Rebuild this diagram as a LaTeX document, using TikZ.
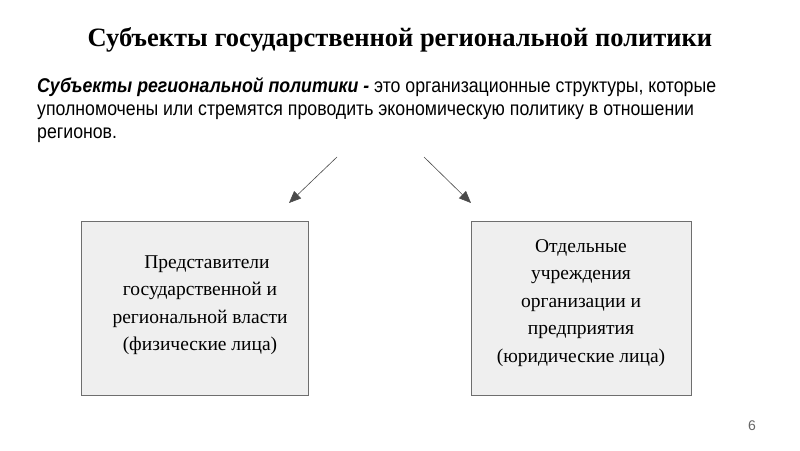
\documentclass[tikz,border=0pt]{standalone}
\usepackage{fontspec}
\setmainfont{Liberation Serif}
\newfontfamily\bodyfont[FakeStretch=0.89]{Liberation Sans}
\newfontfamily\numfont{Liberation Sans}
\usetikzlibrary{arrows.meta}
\definecolor{boxfill}{HTML}{EFEFEF}
\definecolor{boxline}{HTML}{6E6E6E}
\definecolor{arrowgray}{HTML}{4A4A4A}
\tikzset{
  subjbox/.style={draw=boxline, fill=boxfill, line width=0.8pt, minimum width=227pt, minimum height=174pt, inner sep=0pt},
  boxtext/.style={align=center, font=\fontsize{19.5}{27.5}\selectfont},
  pointer/.style={draw=arrowgray, line width=0.6pt, -{Triangle[length=12pt, width=10pt]}}
}
\begin{document}
\begin{tikzpicture}[x=1pt, y=-1pt]
\useasboundingbox (0,0) rectangle (800,450);
\node[font=\fontsize{26.5}{30}\selectfont\bfseries] (title) at (400,40) {Субъекты государственной региональной политики};
\node[anchor=north west, align=left, inner sep=0pt, font=\bodyfont\fontsize{19.9}{23}\selectfont] (def) at (37,77)
  {\textbf{\textit{Субъекты региональной политики -}} это организационные структуры, которые\\ уполномочены или стремятся проводить экономическую политику в отношении\\ регионов.};
\coordinate (la) at (337,157);
\coordinate (ra) at (424,157);
\coordinate (lb) at (289,203);
\coordinate (rb) at (471,203);
\draw[pointer] (la) -- (lb);
\draw[pointer] (ra) -- (rb);
\node[subjbox] (left) at (194.5,308) {};
\node[subjbox, minimum width=220pt] (right) at (581,308.5) {};
\node[boxtext] (lt) at (200,305) {\hspace*{14pt}Представители\\государственной и\\региональной власти\\(физические лица)};
\node[boxtext] (rt) at (581,303) {Отдельные\\учреждения\\организации и\\предприятия\\(юридические лица)};
\node[text=gray!80!black, font=\numfont\fontsize{14}{16}\selectfont] (num) at (752,426) {6};
\end{tikzpicture}
\end{document}
